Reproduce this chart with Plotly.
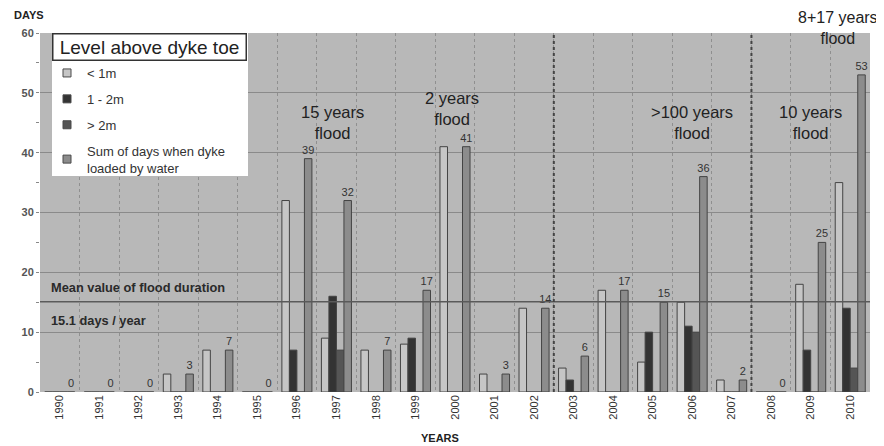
import plotly.graph_objects as go

years = [str(y) for y in range(1990, 2011)]
below_1m = [0, 0, 0, 3, 7, 0, 32, 9, 7, 8, 41, 3, 14, 4, 17, 5, 15, 2, 0, 18, 35]
between_1_2m = [0, 0, 0, 0, 0, 0, 7, 16, 0, 9, 0, 0, 0, 2, 0, 10, 11, 0, 0, 7, 14]
above_2m = [0, 0, 0, 0, 0, 0, 0, 7, 0, 0, 0, 0, 0, 0, 0, 0, 10, 0, 0, 0, 4]
sum_days = [0, 0, 0, 3, 7, 0, 39, 32, 7, 17, 41, 3, 14, 6, 17, 15, 36, 2, 0, 25, 53]
mean_value = 15.1
series_names = ["< 1m", "1 - 2m", "> 2m", "Sum of days when dyke<br>loaded by water"]
flood_labels = [("15 years<br>flood", 6.9, 45), ("2 years<br>flood", 9.93, 47.3),
                (">100 years<br>flood", 16.0, 45), ("10 years<br>flood", 19.0, 45)]
top_label = "8+17 years<br>flood"
period_breaks = [12.5, 17.5]

FONT = "Liberation Sans, Arial, sans-serif"
colors = ["#c6c6c6", "#333333", "#555555", "#8c8c8c"]
values = [below_1m, between_1_2m, above_2m, sum_days]

PW, PH = 830, 359

fig = go.Figure()
for i, (name, vals, col) in enumerate(zip(series_names, values, colors)):
    kw = {}
    if i == 3:
        kw = dict(text=[str(v) for v in vals], textposition="outside",
                  textfont=dict(size=11, color="#333333", family=FONT),
                  cliponaxis=False, constraintext="none")
    fig.add_trace(go.Bar(x=years, y=vals, name=name, showlegend=False,
                         marker=dict(color=col, line=dict(color="#444444", width=1)),
                         **kw))
for i, (name, col) in enumerate(zip(series_names, colors)):
    fig.add_trace(go.Scatter(x=[None], y=[None], mode="markers", name=name,
                             legendgroup=f"g{i}",
                             marker=dict(symbol="square", size=8, color=col,
                                         line=dict(color="#4a4a4a", width=1))))

fig.add_hline(y=mean_value, line=dict(color="#5a5a5a", width=1.5))
for b in period_breaks:
    fig.add_shape(type="line", xref="x", yref="paper", x0=b, x1=b, y0=0, y1=1,
                  line=dict(color="#444444", width=2, dash="dot"))

for txt, xx, yy in flood_labels:
    fig.add_annotation(x=xx, y=yy, xref="x", yref="y", text=txt, showarrow=False,
                       font=dict(size=16.5, color="#222222", family=FONT), align="center")
fig.add_annotation(x=19.7, y=1 + 5 / PH, xref="x", yref="paper", yanchor="middle",
                   text=top_label, showarrow=False,
                   font=dict(size=16, color="#222222", family=FONT), align="center")

fig.add_annotation(x=0.011, y=17.4, xref="paper", yref="y", xanchor="left",
                   text="<b>Mean value of flood duration</b>", showarrow=False,
                   font=dict(size=12.8, color="#2a2a2a", family=FONT))
fig.add_annotation(x=0.011, y=12.0, xref="paper", yref="y", xanchor="left",
                   text="<b>15.1 days / year</b>", showarrow=False,
                   font=dict(size=12.8, color="#2a2a2a", family=FONT))
fig.add_annotation(x=-28 / PW, y=1 + 18 / PH, xref="paper", yref="paper", xanchor="left", yanchor="middle",
                   text="<b>DAYS</b>", showarrow=False,
                   font=dict(size=11, color="#222222", family=FONT))
fig.add_annotation(x=400 / PW, y=-38 / PH, xref="paper", yref="paper", xanchor="center", yanchor="top",
                   text="<b>YEARS</b>", showarrow=False,
                   font=dict(size=11, color="#222222", family=FONT))

fig.add_shape(type="rect", xref="paper", yref="paper", layer="above",
              x0=12 / PW, x1=208 / PW, y0=1 - 143 / PH, y1=1,
              line=dict(width=0), fillcolor="white")
fig.add_annotation(x=12 / PW, y=1, xref="paper", yref="paper", xanchor="left", yanchor="top",
                   text="Level above dyke toe", showarrow=False, width=190, height=23,
                   bordercolor="#333333", borderwidth=1.5, borderpad=1, bgcolor="white",
                   font=dict(size=19, color="#222222", family=FONT), align="center")

fig.update_layout(
    width=876, height=438,
    margin=dict(l=32, r=14, t=25, b=54),
    paper_bgcolor="white", plot_bgcolor="#b8b8b8",
    barmode="group", bargap=0.24, bargroupgap=0,
    font=dict(family=FONT, color="#333333"),
    showlegend=True,
    legend=dict(x=7 / PW, y=1 - 25 / PH, xanchor="left", yanchor="top",
                bgcolor="rgba(0,0,0,0)", borderwidth=0,
                font=dict(size=13, color="#333333", family=FONT),
                tracegroupgap=6, itemwidth=30),
    xaxis=dict(type="category", range=[-0.5, len(years) - 0.5], autorange=False,
               tickangle=-90, tickson="boundaries",
               showgrid=True, gridcolor="#8f8f8f", griddash="dot", gridwidth=1,
               ticks="outside", ticklen=4, tickcolor="rgba(0,0,0,0)",
               tickfont=dict(size=11, color="#333333"), showline=False),
    yaxis=dict(range=[0, 60], autorange=False, dtick=10, showgrid=True, gridcolor="#8a8a8a", gridwidth=1,
               zeroline=False, ticks="outside", ticklen=3, tickcolor="#888888",
               minor=dict(dtick=5, ticks="outside", ticklen=3, tickcolor="#888888"),
               tickprefix="<b>", ticksuffix="</b>",
               tickfont=dict(size=11, color="#555555"), showline=False),
)

fig.write_html("out.html")
